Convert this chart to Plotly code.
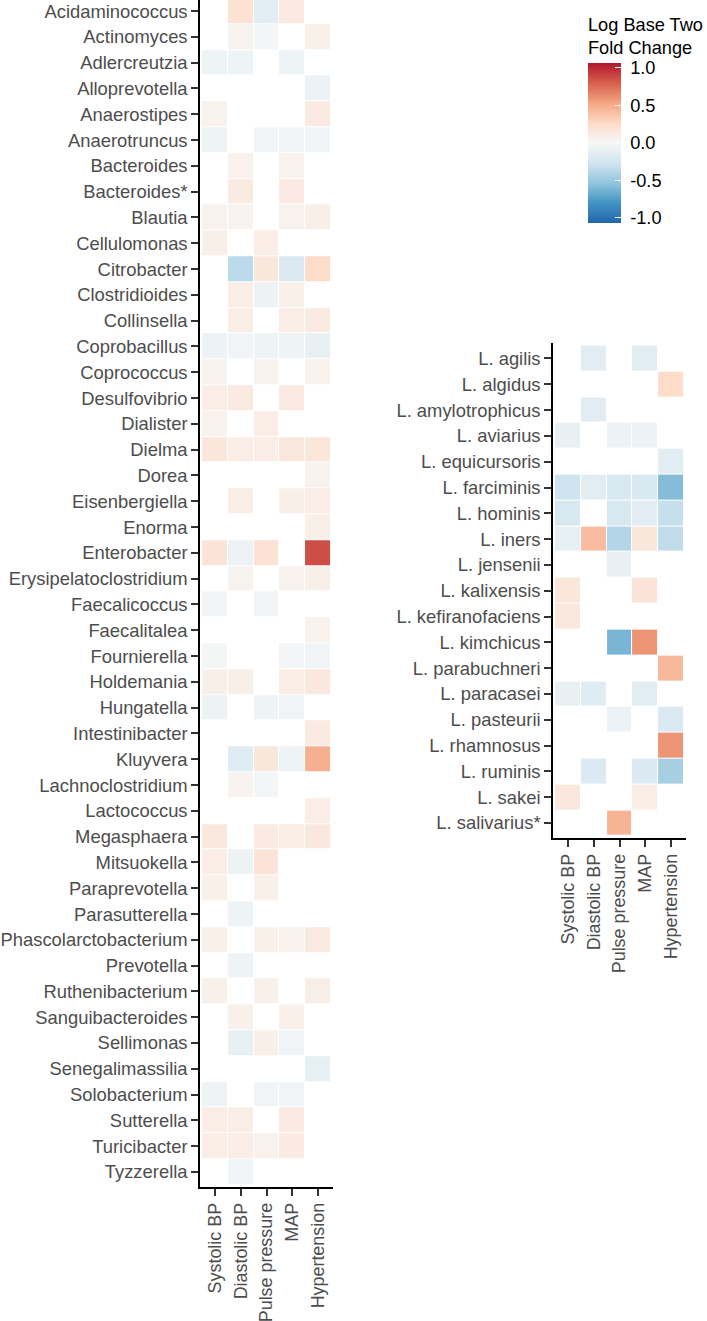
"""
Heatmap of log2 fold change for genera / Lactobacillus species vs BP traits.
"""
import plotly.graph_objects as go

# ── data ─────────────────────────────────────────────────────────────────────

traits = ["Systolic BP", "Diastolic BP", "Pulse pressure", "MAP", "Hypertension"]

genera = [
    "Acidaminococcus", "Actinomyces", "Adlercreutzia", "Alloprevotella",
    "Anaerostipes", "Anaerotruncus", "Bacteroides", "Bacteroides*", "Blautia",
    "Cellulomonas", "Citrobacter", "Clostridioides", "Collinsella",
    "Coprobacillus", "Coprococcus", "Desulfovibrio", "Dialister", "Dielma",
    "Dorea", "Eisenbergiella", "Enorma", "Enterobacter",
    "Erysipelatoclostridium", "Faecalicoccus", "Faecalitalea", "Fournierella",
    "Holdemania", "Hungatella", "Intestinibacter", "Kluyvera",
    "Lachnoclostridium", "Lactococcus", "Megasphaera", "Mitsuokella",
    "Paraprevotella", "Parasutterella", "Phascolarctobacterium", "Prevotella",
    "Ruthenibacterium", "Sanguibacteroides", "Sellimonas", "Senegalimassilia",
    "Solobacterium", "Sutterella", "Turicibacter", "Tyzzerella",
]

# rows follow `genera`, columns follow `traits`; None = not significant
genera_lfc = [
    [None, 0.20, -0.15, 0.12, None],
    [None, 0.05, -0.03, None, 0.07],
    [-0.06, -0.06, None, -0.06, None],
    [None, None, None, None, -0.08],
    [0.06, None, None, None, 0.12],
    [-0.06, None, -0.04, -0.04, -0.05],
    [None, 0.06, None, 0.06, None],
    [None, 0.12, None, 0.12, None],
    [0.05, 0.04, None, 0.05, 0.08],
    [0.08, None, 0.10, None, None],
    [None, -0.36, 0.15, -0.20, 0.25],
    [None, 0.10, -0.07, 0.07, None],
    [None, 0.10, None, 0.10, 0.12],
    [-0.08, -0.05, -0.06, -0.06, -0.10],
    [0.05, None, 0.05, None, 0.06],
    [0.10, 0.12, None, 0.12, None],
    [0.06, None, 0.10, None, None],
    [0.16, 0.10, 0.10, 0.14, 0.16],
    [None, None, None, None, 0.05],
    [None, 0.10, None, 0.08, 0.10],
    [None, None, None, None, 0.08],
    [0.18, -0.07, 0.20, None, 0.87],
    [None, 0.05, None, 0.05, 0.08],
    [-0.04, None, -0.05, None, None],
    [None, None, None, None, 0.06],
    [-0.02, None, None, -0.03, -0.05],
    [0.08, 0.08, None, 0.10, 0.14],
    [-0.07, None, -0.06, -0.05, None],
    [None, None, None, None, 0.12],
    [None, -0.16, 0.15, -0.06, 0.48],
    [None, 0.04, -0.03, None, None],
    [None, None, None, None, 0.10],
    [0.14, None, 0.12, 0.10, 0.14],
    [0.10, -0.07, 0.18, None, None],
    [0.07, None, 0.07, None, None],
    [None, -0.06, None, None, None],
    [0.07, None, 0.07, 0.06, 0.13],
    [None, -0.06, None, None, None],
    [0.07, None, 0.07, None, 0.09],
    [None, 0.07, None, 0.07, None],
    [None, -0.10, 0.08, -0.05, None],
    [None, None, None, None, -0.12],
    [-0.06, None, -0.05, -0.05, None],
    [0.10, 0.10, None, 0.12, None],
    [0.10, 0.10, 0.06, 0.12, None],
    [None, -0.04, None, None, None],
]

lacto = [
    "L. agilis", "L. algidus", "L. amylotrophicus", "L. aviarius",
    "L. equicursoris", "L. farciminis", "L. hominis", "L. iners",
    "L. jensenii", "L. kalixensis", "L. kefiranofaciens", "L. kimchicus",
    "L. parabuchneri", "L. paracasei", "L. pasteurii", "L. rhamnosus",
    "L. ruminis", "L. sakei", "L. salivarius*",
]

lacto_lfc = [
    [None, -0.15, None, -0.15, None],
    [None, None, None, None, 0.25],
    [None, -0.15, None, None, None],
    [-0.10, None, -0.08, -0.08, None],
    [None, None, None, None, -0.15],
    [-0.28, -0.15, -0.22, -0.22, -0.58],
    [-0.22, None, -0.22, -0.15, -0.32],
    [-0.12, 0.42, -0.40, 0.15, -0.34],
    [None, None, -0.10, None, None],
    [0.16, None, None, 0.18, None],
    [0.14, None, None, None, None],
    [None, None, -0.62, 0.60, None],
    [None, None, None, None, 0.44],
    [-0.10, -0.17, None, -0.15, None],
    [None, None, -0.08, None, -0.20],
    [None, None, None, None, 0.60],
    [None, -0.20, None, -0.20, -0.45],
    [0.14, None, None, 0.10, None],
    [None, None, 0.46, None, None],
]

cbar_vals = [1.0, 0.5, 0.0, -0.5, -1.0]
cbar_text = ["1.0", "0.5", "0.0", "-0.5", "-1.0"]

# ── layout constants (pixels) ────────────────────────────────────────────────

W, H = 707, 1321
FONT = "Liberation Sans, Arial, sans-serif"
TXT = "#4D4D4D"
LIM = 1.07  # ggplot colourbar runs a little past the +-1 ticks

RDBU = [
    [0.000, "#2166AC"], [0.125, "#4393C3"], [0.250, "#92C5DE"],
    [0.375, "#D1E5F0"], [0.500, "#F7F7F7"], [0.625, "#FDDBC7"],
    [0.750, "#F4A582"], [0.875, "#D6604D"], [1.000, "#B2182B"],
]


def px_x(a, b):
    return [a / W, b / W]


def px_y(top, bottom):
    return [1 - bottom / H, 1 - top / H]


fig = go.Figure()
fig.add_trace(go.Heatmap(
    x=traits, y=genera, z=genera_lfc,
    coloraxis="coloraxis", xgap=1, ygap=1,
    xaxis="x", yaxis="y",
))
fig.add_trace(go.Heatmap(
    x=traits, y=lacto, z=lacto_lfc,
    coloraxis="coloraxis", xgap=1, ygap=1,
    xaxis="x2", yaxis="y2",
))

axis_common = dict(
    showline=True, linecolor="black", linewidth=1.5,
    ticks="outside", ticklen=7, tickcolor="#333333", tickwidth=1.5,
    showgrid=False, zeroline=False,
    tickfont=dict(family=FONT, size=18.4, color=TXT),
)
xlab_font = dict(family=FONT, size=17.9, color=TXT)

fig.update_layout(
    width=W, height=H,
    margin=dict(l=0, r=0, t=0, b=0, autoexpand=False),
    plot_bgcolor="white", paper_bgcolor="white",
    showlegend=False,
    xaxis=dict(domain=px_x(200, 333), anchor="y", tickangle=-90,
               type="category", range=[-0.58, 4.58], **axis_common),
    yaxis=dict(domain=px_y(0, 1187), anchor="x", type="category",
               categoryorder="array", categoryarray=genera,
               range=[45.58, -0.43], **axis_common),
    xaxis2=dict(domain=px_x(553, 686), anchor="y2", tickangle=-90,
                type="category", range=[-0.58, 4.58], **axis_common),
    yaxis2=dict(domain=px_y(343, 838), anchor="x2", type="category",
                categoryorder="array", categoryarray=lacto,
                range=[18.58, -0.6], **axis_common),
    coloraxis=dict(
        colorscale=RDBU, cmin=-LIM, cmax=LIM,
        colorbar=dict(
            title=dict(text="Log Base Two<br>Fold Change", side="top",
                       font=dict(family=FONT, size=18.2, color="black")),
            x=588 / W, xanchor="left", xref="paper", xpad=0,
            y=1 - 14 / H, yanchor="top", yref="paper", ypad=0,
            len=209, lenmode="pixels", thickness=33,
            outlinewidth=0,
            tickmode="array", tickvals=cbar_vals,
            ticktext=["\u00a0" + t for t in cbar_text],
            ticks="inside", ticklen=6, tickcolor="white", tickwidth=1,
            tickfont=dict(family=FONT, size=18.2, color="black"),
        ),
    ),
)
fig.update_xaxes(tickfont=xlab_font)

# the page's default body margin would shift the figure by 8px
fig.write_html("out.html",
               config={"displayModeBar": False},
               post_script="document.body.style.margin = '0';")
